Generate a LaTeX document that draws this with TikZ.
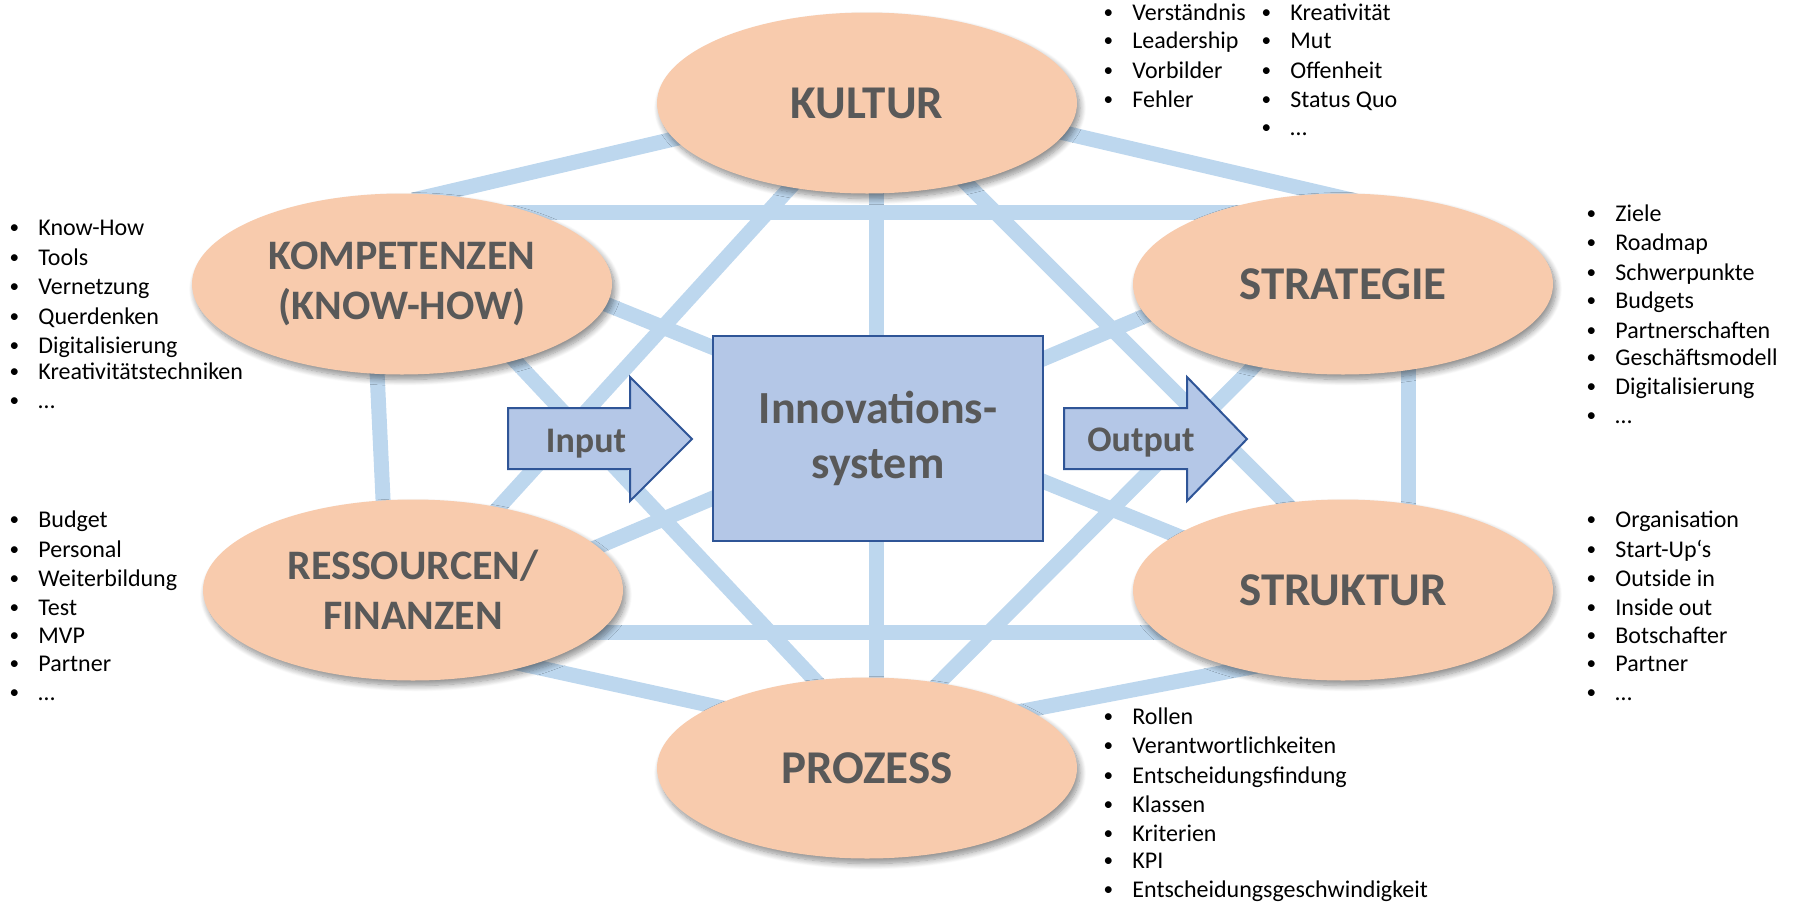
\documentclass[tikz,border=0pt]{standalone}
\usepackage{fontspec}
\setmainfont{Carlito}
\usetikzlibrary{shapes.geometric,calc,shadows.blur}
\definecolor{peach}{HTML}{F8CBAD}
\definecolor{lineblue}{HTML}{BDD7EE}
\definecolor{boxblue}{HTML}{B4C7E7}
\definecolor{boxborder}{HTML}{2F5597}
\definecolor{titlegray}{HTML}{595959}
\pgfdeclarelayer{bg}
\pgfsetlayers{bg,main}
\newcommand\bitem[4]{\node[item] (#1) at (#2,#3) {\llap{\makebox[0pt]{\raisebox{0.7pt}{\scalebox{0.8}{\textbullet}}}\hspace{12pt}}#4};}
\begin{document}
\begin{tikzpicture}[x=0.5pt,y=-0.5pt,
  pillar/.style={ellipse, fill=peach, minimum width=210pt, minimum height=90.5pt, inner sep=0pt, align=center, text=titlegray, font=\fontsize{23.5pt}{25pt}\selectfont\bfseries, blur shadow={shadow xshift=1.5pt, shadow yshift=-2.5pt, shadow blur radius=3pt, shadow blur steps=10, shadow opacity=45}},
  twoline/.style={font=\fontsize{21pt}{25pt}\selectfont\bfseries},
  core/.style={rectangle, fill=boxblue, draw=boxborder, line width=1pt, minimum width=165pt, minimum height=102.5pt, inner sep=0pt, align=center, text=titlegray, font=\fontsize{23pt}{27.5pt}\selectfont\bfseries},
  arrowshape/.style={fill=boxblue, draw=boxborder, line width=1pt, line join=miter},
  arrowlabel/.style={text=titlegray, font=\fontsize{18pt}{20pt}\selectfont\bfseries, inner sep=0pt, anchor=base},
  link/.style={draw=lineblue, line width=7.5pt},
  item/.style={anchor=base west, inner sep=0pt, font=\fontsize{12pt}{14pt}\selectfont}
]
\useasboundingbox (0,0) rectangle (1796,901);

% pillars
\node[pillar] (kultur) at (867,103) {KULTUR};
\node[pillar,twoline] (komp) at (402,284) {KOMPETENZEN\\(KNOW-HOW)};
\node[pillar] (strat) at (1343,284) {STRATEGIE};
\node[pillar,twoline] (ress) at (413,590) {RESSOURCEN/\\FINANZEN};
\node[pillar] (struk) at (1343,590) {STRUKTUR};
\node[pillar] (proz) at (867,768) {PROZESS};
\node[core] (sys) at (878,438.5) {Innovations-\\system};

% connectors
\begin{pgfonlayer}{bg}
\draw[link] ($(komp)+(11,-84)$) -- ($(kultur)+(-67,6.5)$);
\draw[link] ($(kultur)+(73,1)$) -- ($(strat)+(13,-83)$);
\draw[link] ($(komp)+(78,-72)$) -- ($(strat)+(-83,-72)$);
\draw[link] ($(kultur)+(9,57)$) -- ($(proz)+(9,-48)$);
\draw[link] ($(kultur)+(-47,51.7)$) -- ($(ress)+(57,-51)$);
\draw[link] ($(kultur)+(63,44)$) -- ($(struk)+(-33,-63)$);
\draw[link] ($(komp)+(88,50)$) -- ($(proz)+(-27,-61)$);
\draw[link] ($(strat)+(-68,61)$) -- ($(proz)+(48,-61)$);
\draw[link] ($(komp)+(168,5.6)$) -- ($(struk)+(-133,-41)$);
\draw[link] ($(ress)+(157,-31.6)$) -- ($(strat)+(-153,13)$);
\draw[link] ($(ress)+(147,42)$) -- ($(struk)+(-143,42)$);
\draw[link] ($(komp)+(-26,66)$) -- ($(ress)+(-29,-70)$);
\draw[link] ($(strat)+(65,66)$) -- ($(struk)+(65,-70)$);
\draw[link] ($(ress)+(77,67)$) -- ($(proz)+(-117,-54)$);
\draw[link] ($(struk)+(-63,71.6)$) -- ($(proz)+(133,-52.6)$);
\end{pgfonlayer}

% input / output arrows
\draw[arrowshape] (508,408) -- (630,408) -- (630,377) -- (692,439) -- (630,501) -- (630,469) -- (508,469) -- cycle;
\node[arrowlabel] (inlabel) at (586,452) {Input};
\draw[arrowshape] (1064,408) -- (1187,408) -- (1187,377) -- (1247,439) -- (1187,501) -- (1187,469) -- (1064,469) -- cycle;
\node[arrowlabel] (outlabel) at (1141,451) {Output};

% Kompetenzen list
\bitem{a1}{38}{235}{Know-How}
\bitem{a2}{38}{265}{Tools}
\bitem{a3}{38}{294}{Vernetzung}
\bitem{a4}{38}{324}{Querdenken}
\bitem{a5}{38}{353}{Digitalisierung}
\bitem{a6}{38}{379}{Kreativitätstechniken}
\bitem{a7}{38}{408}{…}
% Ressourcen list
\bitem{b1}{38}{527}{Budget}
\bitem{b2}{38}{557}{Personal}
\bitem{b3}{38}{586}{Weiterbildung}
\bitem{b4}{38}{615}{Test}
\bitem{b5}{38}{643}{MVP}
\bitem{b6}{38}{671}{Partner}
\bitem{b7}{38}{700}{…}
% Strategie list
\bitem{c1}{1615}{221}{Ziele}
\bitem{c2}{1615}{250}{Roadmap}
\bitem{c3}{1615}{280}{Schwerpunkte}
\bitem{c4}{1615}{308}{Budgets}
\bitem{c5}{1615}{338}{Partnerschaften}
\bitem{c6}{1615}{365}{Geschäftsmodell}
\bitem{c7}{1615}{394}{Digitalisierung}
\bitem{c8}{1615}{423}{…}
% Struktur list
\bitem{d1}{1615}{527}{Organisation}
\bitem{d2}{1615}{557}{Start-Up‘s}
\bitem{d3}{1615}{586}{Outside in}
\bitem{d4}{1615}{615}{Inside out}
\bitem{d5}{1615}{643}{Botschafter}
\bitem{d6}{1615}{671}{Partner}
\bitem{d7}{1615}{700}{…}
% Kultur lists
\bitem{e1}{1132}{20}{Verständnis}
\bitem{e2}{1132}{48}{Leadership}
\bitem{e3}{1132}{78}{Vorbilder}
\bitem{e4}{1132}{107}{Fehler}
\bitem{f1}{1290}{20}{Kreativität}
\bitem{f2}{1290}{48}{Mut}
\bitem{f3}{1290}{78}{Offenheit}
\bitem{f4}{1290}{107}{Status Quo}
\bitem{f5}{1290}{135}{…}
% Prozess list
\bitem{g1}{1132}{724}{Rollen}
\bitem{g2}{1132}{753}{Verantwortlichkeiten}
\bitem{g3}{1132}{783}{Entscheidungsfindung}
\bitem{g4}{1132}{812}{Klassen}
\bitem{g5}{1132}{841}{Kriterien}
\bitem{g6}{1132}{868}{KPI}
\bitem{g7}{1132}{897}{Entscheidungsgeschwindigkeit}
\end{tikzpicture}
\end{document}
